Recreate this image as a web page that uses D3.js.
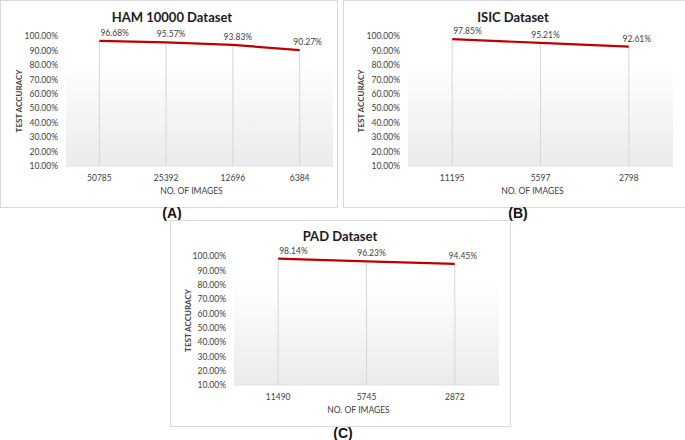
<!DOCTYPE html>
<html><head><meta charset="utf-8">
<script src="https://cdn.jsdelivr.net/npm/d3@7/dist/d3.min.js"></script>
<style>html,body{margin:0;padding:0;background:#fff;}svg{display:block;}</style>
</head><body>
<svg id="c" width="685" height="440"></svg>
<script>
// ---- data ----
const hamImages = ["50785", "25392", "12696", "6384"];
const hamAccuracy = [96.68, 95.57, 93.83, 90.27];
const isicImages = ["11195", "5597", "2798"];
const isicAccuracy = [97.85, 95.21, 92.61];
const padImages = ["11490", "5745", "2872"];
const padAccuracy = [98.14, 96.23, 94.45];
const yTicks = [10, 20, 30, 40, 50, 60, 70, 80, 90, 100];
const titles = ["HAM 10000 Dataset", "ISIC Dataset", "PAD Dataset"];
const captions = ["(A)", "(B)", "(C)"];
const xTitle = "NO. OF IMAGES";
const yTitle = "TEST ACCURACY";

const svg = d3.select("#c");
const font = "Lato, 'Open Sans', sans-serif";

const defs = svg.append("defs");
const grad = defs.append("linearGradient").attr("id","bg").attr("x1",0).attr("y1",0).attr("x2",0).attr("y2",1);
grad.append("stop").attr("offset","0%").attr("stop-color","#ffffff");
grad.append("stop").attr("offset","20%").attr("stop-color","#ffffff");
grad.append("stop").attr("offset","100%").attr("stop-color","#ebebeb");

const panels = [
  {cats: hamImages, vals: hamAccuracy, box:[0.5,0.5,337,207], plot:[66,333,36,166], title:[172,22], caption:[172,218], yt:19, xtY:194, tlY:181},
  {cats: isicImages, vals: isicAccuracy, box:[343.5,0.5,350,207], plot:[408,673,36,166], title:[513,22], caption:[518,218], yt:361, xtY:194, tlY:181},
  {cats: padImages, vals: padAccuracy, box:[170.5,220.5,340,206], plot:[234,499,256,385], title:[340,241], caption:[343,438], yt:188, xtY:413, tlY:400}
];

panels.forEach((p, pi) => {
  const g = svg.append("g");
  g.append("rect").attr("x",p.box[0]).attr("y",p.box[1]).attr("width",p.box[2]).attr("height",p.box[3])
    .attr("fill","#fff").attr("stroke","#d9d9d9").attr("stroke-width",1);

  const x = d3.scaleBand().domain(p.cats).range([p.plot[0], p.plot[1]]);
  const y = d3.scaleLinear().domain([10, 100]).range([p.plot[3], p.plot[2]]);

  g.append("rect").attr("x",p.plot[0]).attr("y",y(100)).attr("width",p.plot[1]-p.plot[0]).attr("height",y(10)-y(100))
    .attr("fill","url(#bg)");

  // y axis labels
  const yAxis = d3.axisLeft(y).tickValues(yTicks).tickSize(0).tickPadding(8).tickFormat(d => d3.format(".2f")(d) + "%");
  const ya = g.append("g").attr("transform",`translate(${p.plot[0]},0)`).call(yAxis);
  ya.select(".domain").remove();
  ya.selectAll("text").attr("font-family",font).attr("font-size",8.5).attr("fill","#404040");

  // x axis labels
  const xAxis = d3.axisBottom(x).tickSize(0).tickPadding(0);
  const xa = g.append("g").attr("transform",`translate(0,${p.tlY})`).call(xAxis);
  xa.select(".domain").remove();
  xa.selectAll("text").attr("dy","0").attr("font-family",font).attr("font-size",8.5).attr("fill","#404040");

  // bottom line
  g.append("line").attr("x1",p.plot[0]).attr("x2",p.plot[1]).attr("y1",y(10)).attr("y2",y(10))
    .attr("stroke","#e0e0e0").attr("stroke-width",1);

  // drop lines
  g.selectAll(".drop").data(p.vals).enter().append("line")
    .attr("x1",(d,i)=>x(p.cats[i])+x.bandwidth()/2).attr("x2",(d,i)=>x(p.cats[i])+x.bandwidth()/2)
    .attr("y1",d=>y(d)).attr("y2",y(10)).attr("stroke","#d6d6d6").attr("stroke-width",1);

  // line
  const line = d3.line().x((d,i)=>x(p.cats[i])+x.bandwidth()/2).y(d=>y(d));
  g.append("path").datum(p.vals).attr("d",line).attr("fill","none").attr("stroke","#c00000").attr("stroke-width",2.2);

  // data labels
  g.selectAll(".lbl").data(p.vals).enter().append("text")
    .attr("x",(d,i)=>x(p.cats[i])+x.bandwidth()/2 + (i===0 ? 1 : (i===p.vals.length-1 ? 8 : 5)))
    .attr("y",d=>y(d)-5)
    .attr("text-anchor",(d,i)=> i===0 ? "start" : "middle")
    .attr("font-family",font).attr("font-size",8.5).attr("fill","#404040")
    .text(d=>d3.format(".2f")(d)+"%");

  // title
  g.append("text").attr("x",p.title[0]).attr("y",p.title[1]).attr("text-anchor","middle")
    .attr("font-family",font).attr("font-weight","bold").attr("font-size",13).attr("fill","#1a1a1a").text(titles[pi]);

  // axis titles
  g.append("text").attr("x",(p.plot[0]+p.plot[1])/2 - 8).attr("y",p.xtY).attr("text-anchor","middle")
    .attr("font-family",font).attr("font-size",8.5).attr("fill","#404040").text(xTitle);
  g.append("text").attr("transform",`translate(${p.yt+3},${(p.plot[2]+p.plot[3])/2}) rotate(-90)`).attr("text-anchor","middle")
    .attr("font-family",font).attr("font-size",8).attr("font-weight","bold").attr("fill","#404040").text(yTitle);

  // caption
  svg.append("text").attr("x",p.caption[0]).attr("y",p.caption[1]).attr("text-anchor","middle")
    .attr("font-family","'Liberation Sans', Arial, sans-serif").attr("font-weight","bold").attr("font-size",14).attr("fill","#111").text(captions[pi]);
});
</script>
</body></html>
